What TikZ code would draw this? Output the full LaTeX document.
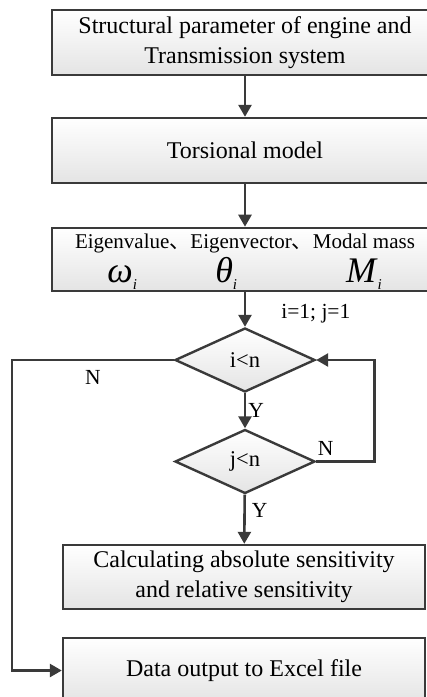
\documentclass[tikz,border=0pt]{standalone}
\usepackage{fontspec}
\setmainfont{Liberation Serif}
\newfontfamily\cjkfont{Noto Sans CJK SC}
\usetikzlibrary{arrows.meta,positioning,shapes.geometric}
\definecolor{lineGray}{HTML}{3A3A3A}
\definecolor{fillGray}{HTML}{E4E4E4}
\newcommand{\symsub}[1]{\raisebox{-7pt}{\fontsize{15}{15}\selectfont\textit{#1}}}
\tikzset{
  procbox/.style={rectangle, draw=lineGray, line width=2.4pt, top color=white, bottom color=fillGray,
    inner sep=0pt, align=center, font=\fontsize{24}{30}\selectfont},
  decision/.style={diamond, draw=lineGray, line width=2.4pt, top color=white, bottom color=fillGray,
    inner sep=0pt, minimum width=140pt, minimum height=64pt, font=\fontsize{22.5}{25}\selectfont},
  flowline/.style={draw=lineGray, line width=2.6pt, -{Triangle[length=12pt,width=13pt]}},
  flowlabel/.style={font=\fontsize{21.5}{25}\selectfont, text=black, inner sep=2pt}
}

\begin{document}
\begin{tikzpicture}[x=1pt, y=-1pt]
\useasboundingbox (0,0) rectangle (427,697);
% process boxes
\node[procbox, minimum width=386pt, minimum height=65pt] (param) at (245,42.5)
  {Structural parameter of engine and\\Transmission system};
\node[procbox, minimum width=386pt, minimum height=65pt] (torsion) at (245,150.5) {Torsional model};
\node[procbox, minimum width=386pt, minimum height=63pt] (modal) at (245,259.5)
  {\begin{tabular}{@{}c@{}c@{}c@{}c@{}c@{}}
   \fontsize{21}{24}\selectfont Eigenvalue & \cjkfont\fontsize{21}{24}\selectfont 、 &
   \fontsize{21}{24}\selectfont Eigenvector & \cjkfont\fontsize{21}{24}\selectfont 、 &
   \fontsize{21}{24}\selectfont Modal mass\\[-1pt]
   \fontsize{36}{30}\selectfont\textit{ω}\symsub{i} & &
   \fontsize{36}{30}\selectfont\textit{θ}\symsub{i}\hspace{30pt} & &
   \fontsize{36}{30}\selectfont\textit{M}\symsub{i}
  \end{tabular}};
% decisions
\node[decision] (iloop) at (245,360) {i<n};
\node[decision] (jloop) at (245,461.5) {j<n};
\node[procbox, minimum width=362pt, minimum height=64pt] (sens) at (244,577)
  {Calculating absolute sensitivity\\and relative sensitivity};
\node[procbox, minimum width=362pt, minimum height=65pt] (excel) at (244,670.5) {Data output to Excel file};
% connectors
\draw[flowline] (param) -- (torsion);
\draw[flowline] (torsion) -- (modal);
\draw[flowline] (modal) -- node[flowlabel, right, xshift=33pt, yshift=-4pt] {i=1; j=1} (iloop);
\draw[flowline] (iloop) -- node[flowlabel, right] {Y} (jloop);
\draw[flowline] (jloop) -- node[flowlabel, right, xshift=4pt, pos=0.33] {Y} (sens);
\draw[flowline] (jloop.east) -- node[flowlabel, above, xshift=-5pt, yshift=3pt, pos=0.25] {N} ++(58,0) |- (iloop.east);
\draw[flowline] (iloop.west) -- node[flowlabel, below, yshift=-7pt, pos=0.5] {N} ++(-162,0) |- (excel.west);
\end{tikzpicture}
\end{document}
